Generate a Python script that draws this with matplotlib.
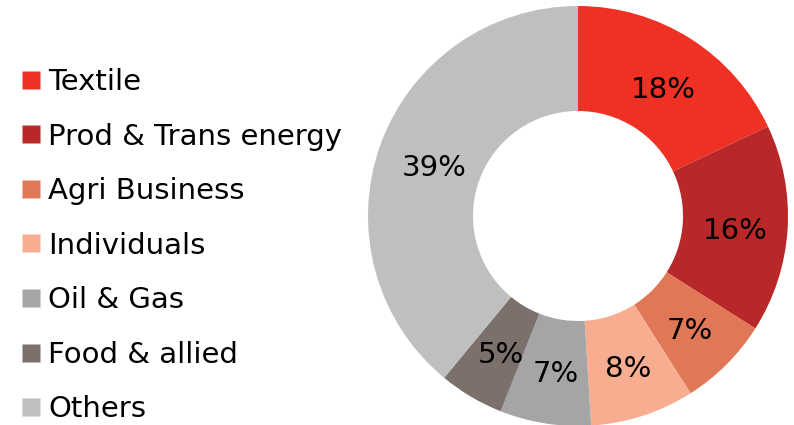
import numpy as np
import matplotlib
matplotlib.use("Agg")
import matplotlib.pyplot as plt
import matplotlib.transforms as mtransforms
from matplotlib.lines import Line2D

sectors = ["Textile", "Prod & Trans energy", "Agri Business", "Individuals",
           "Oil & Gas", "Food & allied", "Others"]
shares = [18, 16, 7, 8, 7, 5, 39]
colors = ["#EE3124", "#B92828", "#E07757", "#F8AD90", "#A5A5A5", "#7B706B", "#BFBFBF"]

plt.rcParams["font.family"] = ["DejaVu Sans"]

fig = plt.figure(figsize=(7.94, 4.25), dpi=100)

# donut placed by pixel: centre (578, 216), outer radius ~210
ax = fig.add_axes([(578 - 210) / 794, (425 - 216 - 210) / 425, 420 / 794, 420 / 425])
wedges, texts, autotexts = ax.pie(
    shares, colors=colors, startangle=90, counterclock=False,
    radius=1.0, autopct=lambda p: f"{p:.0f}%", pctdistance=0.74,
    wedgeprops=dict(width=0.5, edgecolor="none"),
    textprops=dict(fontsize=21, color="black"))
# labels sit a few px lower in the original
shift = mtransforms.ScaledTranslation(2 / 100, -5 / 100, fig.dpi_scale_trans)
for t in autotexts:
    t.set_transform(t.get_transform() + shift)
ax.set_xlim(-1, 1)
ax.set_ylim(-1, 1)
ax.axis("off")

handles = [Line2D([], [], marker="s", linestyle="none", markersize=13,
                  markerfacecolor=c, markeredgecolor="none") for c in colors]
fig.legend(handles, sectors, loc="upper left", bbox_to_anchor=(22 / 794, 1 - 68 / 425),
           frameon=False, fontsize=21, handlelength=0.65, handletextpad=0.24,
           labelspacing=0.91, borderaxespad=0, borderpad=0)

fig.savefig("out.png", dpi=100)
